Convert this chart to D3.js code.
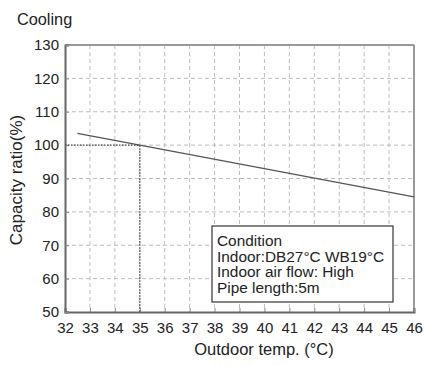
<!DOCTYPE html>
<html><head><meta charset="utf-8">
<script src="https://cdn.jsdelivr.net/npm/d3@7/dist/d3.min.js"></script>
<style>body{margin:0;background:#fff}svg{display:block;font-family:"Liberation Sans",Arial,sans-serif}</style>
</head><body><svg id="c" width="426" height="366"></svg>
<script>
const xTicks = [32,33,34,35,36,37,38,39,40,41,42,43,44,45,46];
const yTicks = [50,60,70,80,90,100,110,120,130];
const lineTemps = [32.5, 35, 46];
const lineCapacity = [103.5, 100, 84.5];
const refTemp = 35, refCap = 100;
const conditionLines = ["Condition","Indoor:DB27°C WB19°C","Indoor air flow: High","Pipe length:5m"];

const svg = d3.select("#c");
const L=65, R=414, T=45, B=312;
const x = d3.scaleLinear().domain([32,46]).range([L,R]);
const y = d3.scaleLinear().domain([50,130]).range([B,T]);

// grid
const g = svg.append("g");
g.selectAll(".vg").data(xTicks.slice(1,-1)).join("line")
 .attr("x1",d=>x(d)).attr("x2",d=>x(d)).attr("y1",T).attr("y2",B)
 .attr("stroke","#bdbdbd").attr("stroke-width",1).attr("stroke-dasharray","4,3");
g.selectAll(".hg").data(yTicks.slice(1,-1)).join("line")
 .attr("x1",L).attr("x2",R).attr("y1",d=>y(d)).attr("y2",d=>y(d))
 .attr("stroke","#bdbdbd").attr("stroke-width",1).attr("stroke-dasharray","4,3");

// frame
svg.append("line").attr("x1",L).attr("x2",R).attr("y1",T).attr("y2",T).attr("stroke","#9a9a9a").attr("stroke-width",2);
svg.append("line").attr("x1",R).attr("x2",R).attr("y1",T).attr("y2",B).attr("stroke","#9a9a9a").attr("stroke-width",2);

// axes
const xa = svg.append("g").attr("transform",`translate(0,${B})`)
 .call(d3.axisBottom(x).tickValues(xTicks).tickSize(-4).tickPadding(10).tickFormat(d3.format("d")));
const ya = svg.append("g").attr("transform",`translate(${L},0)`)
 .call(d3.axisLeft(y).tickValues(yTicks).tickSize(-4).tickPadding(6).tickFormat(d3.format("d")));
[xa,ya].forEach(a=>{
  a.select(".domain").attr("stroke","#666").attr("stroke-width",2);
  a.selectAll(".tick line").attr("stroke","#888");
  a.selectAll("text").attr("fill","#222").style("font-size","15px").style("font-family","Liberation Sans, Arial, sans-serif");
});

// reference dotted lines
svg.append("path").attr("d",`M${x(32)},${y(refCap)}H${x(refTemp)}V${y(50)}`)
 .attr("fill","none").attr("stroke","#444").attr("stroke-width",1.3).attr("stroke-dasharray","1.5,1.5");

// curve
const pts = lineTemps.map((t,i)=>[t,lineCapacity[i]]);
svg.append("path").attr("d",d3.line().x(d=>x(d[0])).y(d=>y(d[1]))(pts))
 .attr("fill","none").attr("stroke","#555").attr("stroke-width",1.3);

// condition box
svg.append("rect").attr("x",212).attr("y",226).attr("width",181).attr("height",76)
 .attr("fill","#fff").attr("stroke","#333").attr("stroke-width",1.2);
svg.append("g").selectAll("text").data(conditionLines).join("text")
 .attr("x",217).attr("y",(d,i)=>246+i*15.7).text(d=>d)
 .attr("fill","#222").style("font-size","15.4px");

// titles
svg.append("text").attr("x",17).attr("y",25).text("Cooling").attr("fill","#222").style("font-size","16.3px");
svg.append("text").attr("x",264).attr("y",355).attr("text-anchor","middle").text("Outdoor temp. (°C)").attr("fill","#222").style("font-size","16.5px");
svg.append("text").attr("transform",`translate(22,180) rotate(-90)`).attr("text-anchor","middle")
 .text("Capacity ratio(%)").attr("fill","#222").style("font-size","17px");
</script></body></html>
